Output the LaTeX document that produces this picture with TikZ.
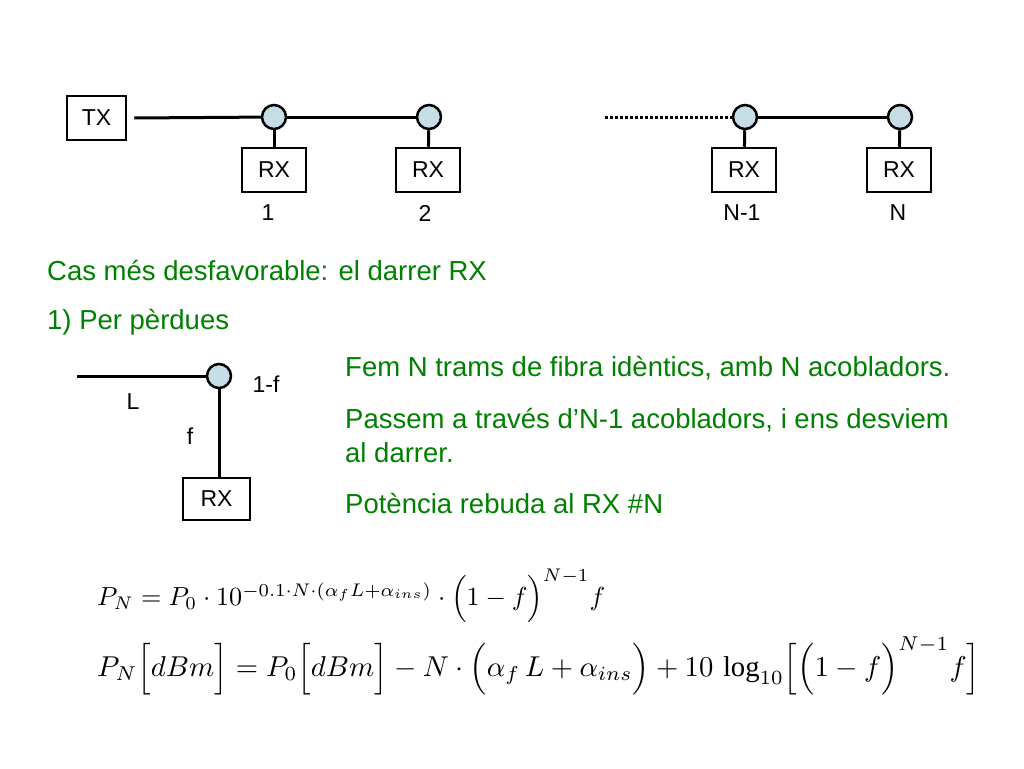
\documentclass[tikz,border=0pt]{standalone}
\usepackage{fontspec}
\setmainfont{Liberation Sans}
\newfontfamily\serifnum{Liberation Serif}
\begin{document}
\begin{tikzpicture}[x=1pt,y=-1pt,
  box/.style={draw,line width=2.5pt,minimum width=64pt,minimum height=44pt,font=\fontsize{23}{26}\selectfont,inner sep=0pt},
  cpl/.style={circle,draw,line width=2.5pt,fill=cyan!20!teal!25,minimum size=24pt,inner sep=0pt},
  ln/.style={line width=3pt},
  lab/.style={font=\fontsize{23}{26}\selectfont},
  gt/.style={font=\fontsize{27.5}{32}\selectfont,text=green!50!black,anchor=west,inner sep=0pt},
  eq/.style={anchor=west,inner sep=0pt}]
\useasboundingbox (0,0) rectangle (1024,768);
\node[box,minimum width=59pt] (tx) at (96.5,118) {TX};
\node[cpl] (c1) at (274,117) {};
\node[cpl] (c2) at (429,117) {};
\node[cpl] (c3) at (745,117) {};
\node[cpl] (c4) at (900,117) {};
\node[box] (r1) at (274,170) {RX};
\node[box] (r2) at (428,170) {RX};
\node[box] (r3) at (744,170) {RX};
\node[box] (r4) at (899,170) {RX};
\coordinate (d0) at (605,117);
\draw[ln] (tx.east)++(7,0) -- (c1);
\draw[ln] (c1) -- (c2);
\draw[ln,dotted] (d0) -- (c3);
\draw[ln] (c3) -- (c4);
\foreach \a/\b in {c1/r1,c2/r2,c3/r3,c4/r4} \draw[ln] (\a) -- (\b);
\node[lab] (l1) at (268,213) {1};
\node[lab] (l2) at (425,213) {2};
\node[lab] (l3) at (742,213) {N-1};
\node[lab] (l4) at (898,213) {N};
\node[gt] (t1) at (47,271) {Cas més desfavorable: el darrer RX};
\node[gt] (t2) at (47,322) {1) Per pèrdues};
\coordinate (s0) at (77,376);
\node[cpl] (c5) at (219,376) {};
\node[box,minimum width=67pt,minimum height=42pt] (r5) at (216.5,499) {RX};
\draw[ln] (s0) -- (c5);
\draw[ln] (c5) -- (c5|-r5.north);
\node[lab] (lL) at (133,402) {L};
\node[lab] (lf) at (190,436) {f};
\node[lab] (lf1) at (266,384) {1-f};
\node[gt] (t3) at (345,368) {Fem N trams de fibra idèntics, amb N acobladors.};
\node[gt] (t4) at (345,420) {Passem a través d’N-1 acobladors, i ens desviem};
\node[gt] (t5) at (345,453) {al darrer.};
\node[gt] (t6) at (345,504) {Potència rebuda al RX \#N};
\node[eq] (e1) at (97,596) {\resizebox{508pt}{!}{$P_N = P_0\cdot 10^{-0.1\cdot N\cdot\left(\alpha_f L+\alpha_{ins}\right)}\cdot\Bigl(1-f\Bigr)^{N-1} f$}};
\node[eq] (e2) at (97,666) {\resizebox{883pt}{!}{$P_N\Bigl[dBm\Bigr] = P_0\Bigl[dBm\Bigr] - N\cdot\Bigl(\alpha_f\, L+\alpha_{ins}\Bigr)+10\,\mathop{\mbox{\serifnum log}}\nolimits_{10}\Bigl[\Bigl(1-f\Bigr)^{N-1} f\Bigr]$}};
\end{tikzpicture}
\end{document}
